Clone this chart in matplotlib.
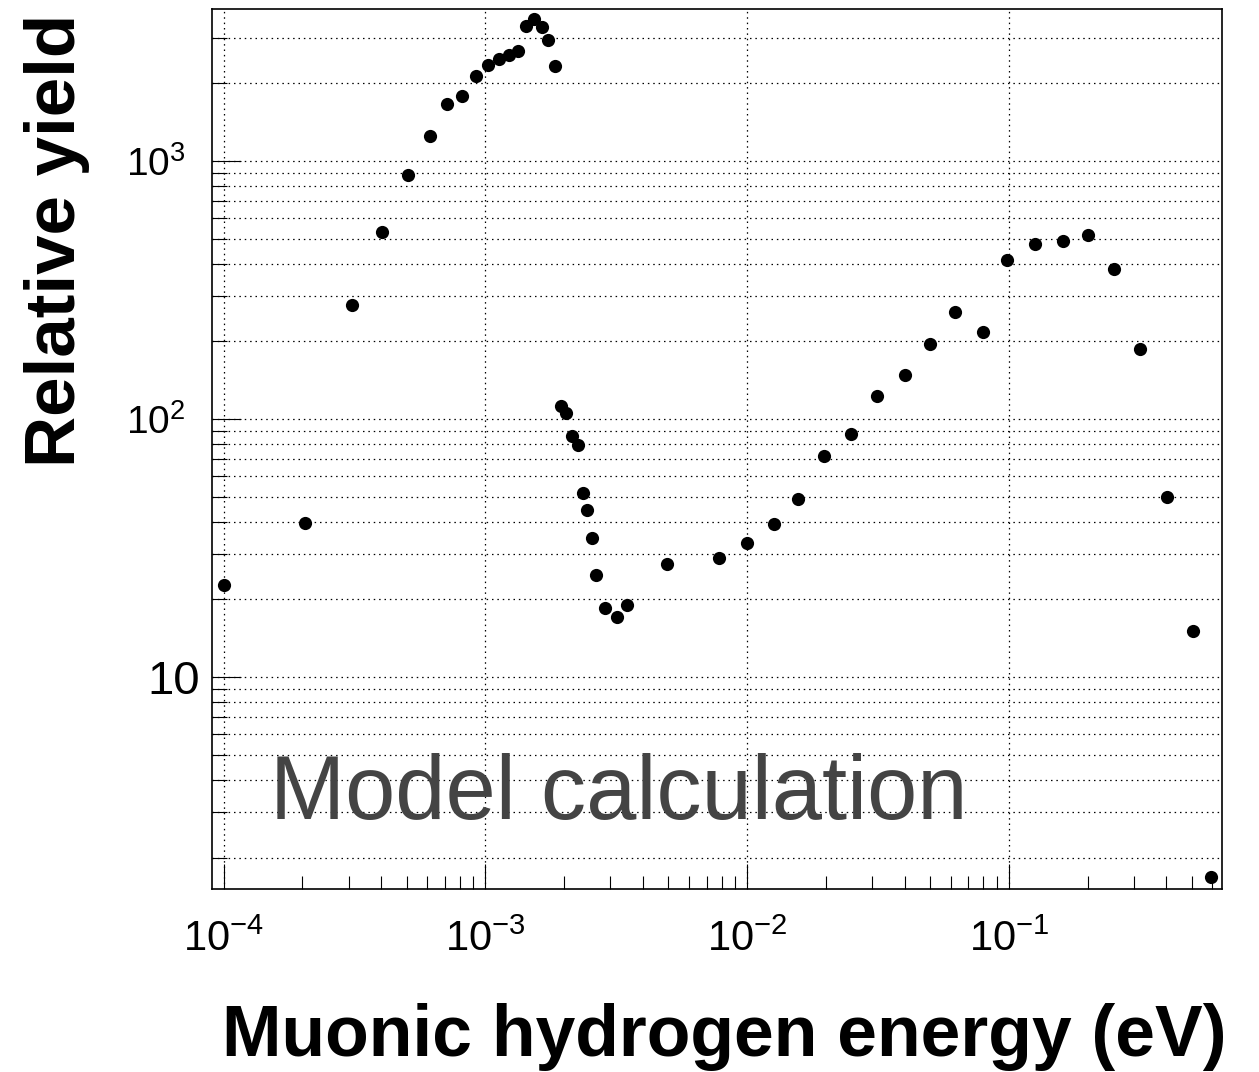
import matplotlib
matplotlib.use("Agg")
import matplotlib.pyplot as plt
from matplotlib.ticker import FixedLocator, FixedFormatter, NullFormatter

plt.rcParams['font.family'] = ['Liberation Sans', 'DejaVu Sans']
plt.rcParams['mathtext.fontset'] = 'custom'
plt.rcParams['mathtext.rm'] = 'Liberation Sans'
plt.rcParams['mathtext.it'] = 'Liberation Sans:italic'
plt.rcParams['mathtext.bf'] = 'Liberation Sans:bold'

# muonic hydrogen energy (eV) and relative yield
energy = [1.0e-4, 2.04e-4, 3.08e-4, 4.03e-4, 5.08e-4, 6.13e-4, 7.14e-4, 8.14e-4, 9.19e-4,
          1.024e-3, 1.125e-3, 1.228e-3, 1.336e-3, 1.426e-3, 1.53e-3, 1.64e-3, 1.74e-3, 1.84e-3,
          1.94e-3, 2.04e-3, 2.15e-3, 2.25e-3, 2.36e-3, 2.45e-3, 2.55e-3, 2.64e-3, 2.86e-3,
          3.18e-3, 3.48e-3, 4.95e-3, 7.79e-3, 1.0e-2, 1.27e-2, 1.57e-2, 1.97e-2, 2.49e-2,
          3.15e-2, 4.0e-2, 4.98e-2, 6.24e-2, 7.95e-2, 9.86e-2, 0.1256, 0.161, 0.200, 0.252,
          0.317, 0.403, 0.505, 0.594]
rel_yield = [22.8, 39.7, 277, 530, 885, 1245, 1655, 1790, 2135,
             2350, 2480, 2570, 2665, 3320, 3560, 3300, 2950, 2340,
             112, 106, 85.7, 79.3, 51.5, 44.3, 34.5, 24.9, 18.6,
             17.1, 19.1, 27.4, 29.0, 33.2, 39.1, 49.0, 71.9, 87.8,
             123, 148, 196, 261, 218, 412, 476, 489, 517, 380,
             186, 50, 15.1, 1.68]

x_major = [1e-4, 1e-3, 1e-2, 1e-1]
x_labels = ['$10^{-4}$', '$10^{-3}$', '$10^{-2}$', '$10^{-1}$']
y_major = [10, 100, 1000]
y_labels = ['', '$10^{2}$', '$10^{3}$']

W, H = 1259, 1072
fig = plt.figure(figsize=(W / 100, H / 100), dpi=100)
ax = fig.add_axes([212 / W, 1 - 889 / H, (1222 - 212) / W, (889 - 9) / H])

ax.set_xscale('log')
ax.set_yscale('log')
ax.set_xlim(9.02e-5, 0.653)
ax.set_ylim(1.51, 3880)

ax.plot(energy, rel_yield, 'o', color='black', ms=9.5, mew=0, zorder=3)

# ticks: ROOT style, inward, only left and bottom
xminor = [m * 10.0 ** e for e in range(-5, 1) for m in range(2, 10)]
yminor = [m * 10.0 ** e for e in range(0, 4) for m in range(2, 10)]
ax.xaxis.set_major_locator(FixedLocator(x_major))
ax.xaxis.set_major_formatter(FixedFormatter(x_labels))
ax.xaxis.set_minor_locator(FixedLocator(xminor))
ax.xaxis.set_minor_formatter(NullFormatter())
ax.yaxis.set_major_locator(FixedLocator(y_major))
ax.yaxis.set_major_formatter(FixedFormatter(y_labels))
ax.yaxis.set_minor_locator(FixedLocator(yminor))
ax.yaxis.set_minor_formatter(NullFormatter())

ax.tick_params(axis='x', which='major', direction='in', length=18, width=0.8,
               pad=22, labelsize=30, top=False)
ax.tick_params(axis='x', which='minor', direction='in', length=9.5, width=0.8, top=False)
ax.tick_params(axis='y', which='major', direction='in', length=21, width=0.8,
               pad=19, labelsize=28, right=False)
ax.tick_params(axis='y', which='minor', direction='in', length=11, width=0.8, right=False)

# the plain "10" label sits closer to the axis and is larger in the original
ax.text(-12 / 1010, 10, '10', transform=ax.get_yaxis_transform(), fontsize=34,
        ha='right', va='center_baseline')

dots = (0, (1.2, 3.1))
ax.grid(True, which='major', axis='x', color='black', lw=0.9, ls=dots)
ax.grid(True, which='both', axis='y', color='black', lw=0.9, ls=dots)
ax.set_axisbelow(True)

for sp in ax.spines.values():
    sp.set_linewidth(1.2)

fig.text(270 / W, 1 - 819 / H, 'Model calculation', fontsize=65, color='#444444',
         ha='left', va='baseline')
fig.text(1226 / W, 1 - 1056 / H, 'Muonic hydrogen energy (eV)', fontsize=51.5,
         fontweight='bold', ha='right', va='baseline')
fig.text(24 / W, 1 - 14 / H, 'Relative yield', fontsize=51, fontweight='bold',
         rotation=90, ha='left', va='top')

fig.savefig('out.png', dpi=100)
